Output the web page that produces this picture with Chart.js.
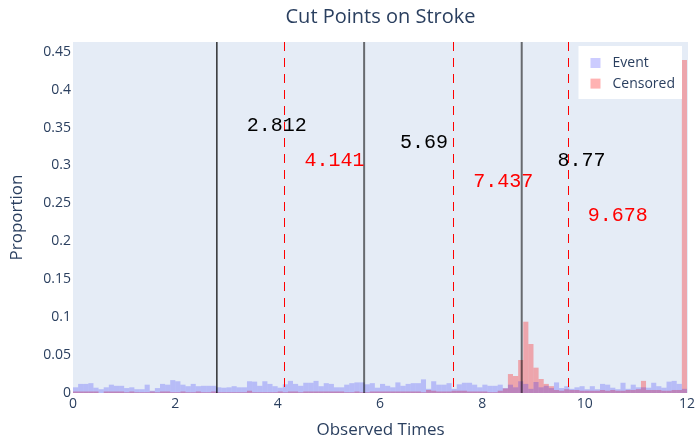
<!DOCTYPE html>
<html>
<head>
<meta charset="utf-8">
<script src="https://cdn.jsdelivr.net/npm/chart.js@4.4.1/dist/chart.umd.min.js"></script>
<style>
  html, body { margin: 0; padding: 0; background: #fff; }
  #wrap { width: 698px; height: 443px; }
</style>
</head>
<body>
<div id="wrap"><canvas id="cutChart"></canvas></div>
<script>
"use strict";

// histogram bins of width 0.1 on [0, 12]
const binCenters = Array.from({length: 120}, (_, i) => +(0.05 + i * 0.1).toFixed(2));

const eventShare = [
  0.0075, 0.012, 0.012, 0.013, 0.007, 0.005, 0.0075, 0.011, 0.0095, 0.0095,
  0.0065, 0.0075, 0.005, 0.005, 0.011, 0.003, 0.0065, 0.012, 0.011, 0.017,
  0.0155, 0.011, 0.009, 0.012, 0.009, 0.0095, 0.0095, 0.0095, 0.0075, 0.007,
  0.0075, 0.009, 0.0075, 0.0075, 0.0155, 0.015, 0.0095, 0.0155, 0.012, 0.009,
  0.007, 0.0115, 0.016, 0.012, 0.0095, 0.0135, 0.0135, 0.016, 0.009, 0.013,
  0.012, 0.0075, 0.0075, 0.011, 0.013, 0.014, 0.014, 0.0115, 0.013, 0.007,
  0.012, 0.0095, 0.0075, 0.014, 0.0095, 0.012, 0.013, 0.013, 0.018, 0.0055,
  0.0155, 0.011, 0.011, 0.013, 0.0055, 0.0115, 0.0135, 0.0135, 0.011, 0.0075,
  0.011, 0.0095, 0.0095, 0.011, 0.0065, 0.011, 0.0075, 0.0155, 0.012, 0.0055,
  0.0145, 0.0075, 0.0095, 0.0065, 0.014, 0.0065, 0.009, 0.0055, 0.0075, 0.009,
  0.005, 0.009, 0.005, 0.012, 0.011, 0.007, 0.005, 0.0135, 0.0055, 0.011,
  0.0075, 0.0075, 0.007, 0.0135, 0.009, 0.007, 0.015, 0.016, 0.012, 0.0055
];

const censoredShare = [
  0.002, 0.002, 0.002, 0.002, 0.002, 0, 0.002, 0.002, 0.002, 0.002,
  0.001, 0.002, 0.001, 0.001, 0.001, 0.002, 0.001, 0.002, 0.002, 0.001,
  0.001, 0.002, 0.001, 0.001, 0.002, 0.001, 0.001, 0.002, 0.001, 0.001,
  0.001, 0.001, 0.001, 0.001, 0.003, 0.001, 0.001, 0.001, 0.001, 0.001,
  0.002, 0.001, 0.002, 0.002, 0.001, 0.002, 0.002, 0.002, 0.002, 0.002,
  0.002, 0.002, 0.002, 0.001, 0.001, 0.002, 0.001, 0.001, 0.002, 0.002,
  0.002, 0.002, 0.002, 0.002, 0.002, 0.002, 0.002, 0.002, 0.001, 0.004,
  0.003, 0.002, 0.002, 0.002, 0.003, 0.003, 0.003, 0.002, 0.002, 0.002,
  0.002, 0.001, 0.001, 0.003, 0.006, 0.025, 0.0224, 0.0435, 0.094, 0.0646,
  0.0334, 0.0185, 0.012, 0.009, 0.004, 0.003, 0.005, 0.004, 0.004, 0.003,
  0.003, 0.003, 0.003, 0.004, 0.003, 0.004, 0.003, 0.003, 0.004, 0.004,
  0.005, 0.016, 0.004, 0.004, 0.004, 0.003, 0.003, 0.004, 0.004, 0.439
];

// cut points and the height of their labels
const eventCuts = [2.812, 5.69, 8.77];
const eventLabelY = [0.352, 0.33, 0.306];
const censoredCuts = [4.141, 7.437, 9.678];
const censoredLabelY = [0.306, 0.278, 0.2335];

const xTicks = [0, 2, 4, 6, 8, 10, 12];
const yTicks = [0, 0.05, 0.1, 0.15, 0.2, 0.25, 0.3, 0.35, 0.4, 0.45];

const FONT = '"Open Sans", "Liberation Sans", sans-serif';
const INK = '#2a3f5f';
const EVENT_COLOR = 'rgba(0, 0, 255, 0.2)';
const CENSORED_COLOR = 'rgba(255, 0, 0, 0.3)';

const plotBackground = {
  id: 'plotBackground',
  beforeDraw(chart) {
    const {ctx, chartArea: a} = chart;
    ctx.save();
    ctx.fillStyle = '#fff';
    ctx.fillRect(0, 0, chart.width, chart.height);
    ctx.fillStyle = '#e5ecf6';
    ctx.fillRect(a.left, a.top, a.width, a.height);
    ctx.restore();
  }
};

const cutLines = {
  id: 'cutLines',
  afterDatasetsDraw(chart) {
    const {ctx, chartArea: a, scales: {x, y}} = chart;
    ctx.save();

    eventCuts.forEach((cut, i) => {
      const px = x.getPixelForValue(cut);
      ctx.setLineDash([]);
      ctx.strokeStyle = i === 0 ? '#000' : 'rgba(0, 0, 0, 0.55)';
      ctx.lineWidth = i === 0 ? 1.2 : 2;
      ctx.beginPath();
      ctx.moveTo(px, a.top);
      ctx.lineTo(px, a.bottom);
      ctx.stroke();
    });

    censoredCuts.forEach(cut => {
      // snap to a pixel centre so the 1px dash stays crisp
      const px = Math.floor(x.getPixelForValue(cut)) + 0.5;
      ctx.setLineDash([9, 7]);
      ctx.strokeStyle = '#ff0000';
      ctx.lineWidth = 1;
      ctx.beginPath();
      ctx.moveTo(px, a.top);
      ctx.lineTo(px, a.bottom);
      ctx.stroke();
    });

    ctx.font = '20px "Liberation Mono", "DejaVu Sans Mono", monospace';
    ctx.textAlign = 'center';
    ctx.textBaseline = 'middle';
    ctx.fillStyle = '#000';
    eventCuts.forEach((cut, i) => {
      ctx.fillText(String(cut), x.getPixelForValue(cut + 1.17), y.getPixelForValue(eventLabelY[i]));
    });
    ctx.fillStyle = '#ff0000';
    censoredCuts.forEach((cut, i) => {
      ctx.fillText(String(cut), x.getPixelForValue(cut + 0.97), y.getPixelForValue(censoredLabelY[i]));
    });
    ctx.restore();
  }
};

const cornerLegend = {
  id: 'cornerLegend',
  afterDraw(chart) {
    const {ctx, chartArea: a} = chart;
    const sets = chart.data.datasets;
    ctx.save();
    ctx.font = '14px ' + FONT;
    const textW = Math.max(...sets.map(d => ctx.measureText(d.label).width));
    const w = 34 + textW + 7;
    const h = 53;
    const left = a.right - 6 - w;
    const top = a.top + 4;
    ctx.fillStyle = '#fff';
    ctx.fillRect(left, top, w, h);
    sets.forEach((d, i) => {
      const cy = top + 17 + i * 20.6;
      ctx.fillStyle = d.backgroundColor;
      ctx.fillRect(left + 12, cy - 5, 10, 10);
      ctx.fillStyle = INK;
      ctx.textAlign = 'left';
      ctx.textBaseline = 'middle';
      ctx.fillText(d.label, left + 34, cy);
    });
    ctx.restore();
  }
};

const data = {
  datasets: [
    {
      label: 'Event',
      data: binCenters.map((c, i) => ({x: c, y: eventShare[i]})),
      backgroundColor: EVENT_COLOR,
      borderWidth: 0,
      inflateAmount: 0,
      barPercentage: 1,
      categoryPercentage: 1,
      grouped: false
    },
    {
      label: 'Censored',
      data: binCenters.map((c, i) => ({x: c, y: censoredShare[i]})),
      backgroundColor: CENSORED_COLOR,
      borderWidth: 0,
      inflateAmount: 0,
      barPercentage: 1,
      categoryPercentage: 1,
      grouped: false
    }
  ]
};

const config = {
  type: 'bar',
  data: data,
  options: {
    responsive: true,
    maintainAspectRatio: false,
    animation: false,
    layout: { padding: { right: 9 } },
    scales: {
      x: {
        type: 'linear',
        min: 0,
        max: 12.02,
        offset: false,
        grid: { display: false, drawTicks: false },
        border: { display: false },
        afterBuildTicks: s => { s.ticks = xTicks.map(v => ({value: v})); },
        afterFit: s => { s.height = 50; },
        ticks: {
          padding: 3,
          maxRotation: 0,
          color: INK,
          font: { family: FONT, size: 14 },
          callback: v => String(v)
        },
        title: {
          display: true,
          text: 'Observed Times',
          color: INK,
          font: { family: FONT, size: 17 },
          padding: { top: 4, bottom: 3 }
        }
      },
      y: {
        min: 0,
        max: 0.4628,
        grid: { display: false, drawTicks: false },
        border: { display: false },
        afterBuildTicks: s => { s.ticks = yTicks.map(v => ({value: v})); },
        afterFit: s => { s.width = 73; },
        ticks: {
          padding: 2,
          color: INK,
          font: { family: FONT, size: 14 },
          callback: v => String(+v.toFixed(2))
        },
        title: {
          display: true,
          text: 'Proportion',
          color: INK,
          font: { family: FONT, size: 17 },
          padding: { top: 7, bottom: 0 }
        }
      }
    },
    plugins: {
      legend: { display: false },
      tooltip: { enabled: false },
      title: {
        display: true,
        text: 'Cut Points on Stroke',
        fullSize: false,
        color: INK,
        font: { family: FONT, size: 20, weight: 'normal' },
        padding: { top: 5, bottom: 13 }
      }
    }
  },
  plugins: [plotBackground, cutLines, cornerLegend]
};

const cutChart = new Chart(document.getElementById('cutChart'), config);
</script>
</body>
</html>
